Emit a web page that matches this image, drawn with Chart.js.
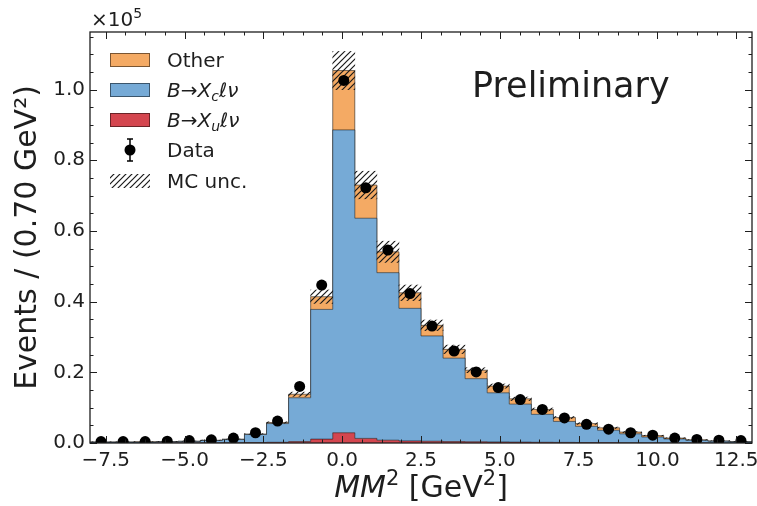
<!DOCTYPE html>
<html>
<head>
<meta charset="utf-8">
<script src="https://cdn.jsdelivr.net/npm/chart.js@4.4.1/dist/chart.umd.min.js"></script>
<style>
    html, body { margin: 0; padding: 0; background: #fff; }
    #wrap { width: 757px; height: 506px; }
</style>
</head>
<body>
<div id="wrap"><canvas id="mm2Chart" width="757" height="506"></canvas></div>
<script>
(function () {
    'use strict';

    var FONT = "'DejaVu Sans', sans-serif";
    var INK = '#1e1e1e';

    // MM^2 histogram, 0.70 GeV^2 bins; all yields in units of 1e5 events
    var binEdges = [-8.0, -7.3, -6.6, -5.9, -5.2, -4.5, -3.8, -3.1, -2.4, -1.7, -1.0,
        -0.3, 0.4, 1.1, 1.8, 2.5, 3.2, 3.9, 4.6, 5.3, 6.0,
        6.7, 7.4, 8.1, 8.8, 9.5, 10.2, 10.9, 11.6, 12.3, 13.0];

    var xuLnu = [0.0003, 0.0003, 0.0003, 0.0004, 0.0005, 0.0006, 0.0008, 0.0012, 0.002, 0.004,
        0.011, 0.029, 0.013, 0.008, 0.006, 0.005, 0.004, 0.0035, 0.003, 0.0025,
        0.002, 0.0017, 0.0014, 0.0011, 0.0009, 0.0007, 0.0005, 0.0004, 0.0003, 0.0002];

    var xcLnu = [0.0022, 0.0022, 0.0025, 0.0031, 0.004, 0.0064, 0.0092, 0.0228, 0.053, 0.124,
        0.367, 0.857, 0.623, 0.474, 0.375, 0.298, 0.236, 0.1785, 0.139, 0.1075,
        0.079, 0.0593, 0.0456, 0.0349, 0.0251, 0.0163, 0.011, 0.0071, 0.0047, 0.0031];

    var other = [0.0005, 0.0005, 0.0005, 0.0006, 0.0007, 0.0008, 0.001, 0.0015, 0.003, 0.010,
        0.036, 0.168, 0.094, 0.059, 0.044, 0.030, 0.025, 0.024, 0.019, 0.015,
        0.014, 0.011, 0.008, 0.007, 0.005, 0.004, 0.0025, 0.0015, 0.001, 0.0007];

    var mcUnc = [0.0003, 0.0003, 0.0003, 0.0003, 0.0003, 0.0004, 0.0005, 0.001, 0.002, 0.006,
        0.019, 0.054, 0.039, 0.030, 0.022, 0.015, 0.012, 0.007, 0.006, 0.005,
        0.004, 0.003, 0.0025, 0.002, 0.0015, 0.001, 0.0008, 0.0005, 0.0004, 0.0003];

    var dataYield = [0.004, 0.004, 0.004, 0.005, 0.007, 0.009, 0.014, 0.029, 0.062, 0.160,
        0.447, 1.026, 0.722, 0.546, 0.423, 0.331, 0.260, 0.201, 0.157, 0.123,
        0.095, 0.071, 0.053, 0.039, 0.029, 0.022, 0.014, 0.010, 0.008, 0.007];

    var xTickValues = [-7.5, -5.0, -2.5, 0.0, 2.5, 5.0, 7.5, 10.0, 12.5];
    var yTickValues = [0.0, 0.2, 0.4, 0.6, 0.8, 1.0];
    var X_MIN = -8, X_MAX = 13, Y_MAX = 1.163;

    var COLORS = {
        other: '#f4aa64',
        xc: '#76aad6',
        xu: '#d4464f',
        edge: 'rgba(0,0,0,0.5)'
    };

    var binCenters = binEdges.slice(0, -1).map(function (e, i) {
        return (e + binEdges[i + 1]) / 2;
    });

    // step outline: one point per bin edge, last value repeated at the right edge
    function stepPoints(vals) {
        return binEdges.map(function (e, i) {
            return { x: e, y: vals[Math.min(i, vals.length - 1)] };
        });
    }

    function makeHatch() {
        var c = document.createElement('canvas');
        c.width = 6; c.height = 6;
        var g = c.getContext('2d');
        g.strokeStyle = '#1a1a1a';
        g.lineWidth = 1.2;
        g.beginPath();
        g.moveTo(-1, 7); g.lineTo(7, -1);
        g.moveTo(-4, 4); g.lineTo(4, -4);
        g.moveTo(2, 10); g.lineTo(10, 2);
        g.stroke();
        return g.createPattern(c, 'repeat');
    }

    var hatch = makeHatch();

    var uncBand = binCenters.map(function (c, i) {
        var tot = xuLnu[i] + xcLnu[i] + other[i];
        return { x: c, y: [tot - mcUnc[i], tot + mcUnc[i]] };
    });

    var dataPoints = binCenters.map(function (c, i) {
        return { x: c, y: dataYield[i] };
    });

    function fmtTick(v) {
        return v.toFixed(1).replace('-', '\u2212');
    }

    // draw a run of [text, font, dy] pieces left to right
    function drawRuns(ctx, x, y, runs) {
        runs.forEach(function (r) {
            ctx.font = r[1];
            ctx.fillText(r[0], x, y + (r[2] || 0));
            x += ctx.measureText(r[0]).width;
        });
        return x;
    }

    function runsWidth(ctx, runs) {
        var w = 0;
        runs.forEach(function (r) {
            ctx.font = r[1];
            w += ctx.measureText(r[0]).width;
        });
        return w;
    }

    var decor = {
        id: 'decor',
        afterDraw: function (chart) {
            var ctx = chart.ctx;
            var a = chart.chartArea;
            var xs = chart.scales.x;
            var ys = chart.scales.y;
            var v, p;

            ctx.save();
            ctx.strokeStyle = INK;
            ctx.lineWidth = 1;
            ctx.beginPath();
            // minor ticks, inward on all four sides
            for (v = -8.75; v <= X_MAX; v += 0.625) {
                if (v < X_MIN) continue;
                p = Math.round(xs.getPixelForValue(v)) + 0.5;
                ctx.moveTo(p, a.bottom); ctx.lineTo(p, a.bottom - 3.5);
                ctx.moveTo(p, a.top); ctx.lineTo(p, a.top + 3.5);
            }
            for (v = 0; v <= Y_MAX; v += 0.05) {
                p = Math.round(ys.getPixelForValue(v)) + 0.5;
                ctx.moveTo(a.left, p); ctx.lineTo(a.left + 3.5, p);
                ctx.moveTo(a.right, p); ctx.lineTo(a.right - 3.5, p);
            }
            xTickValues.forEach(function (t) {
                var q = Math.round(xs.getPixelForValue(t)) + 0.5;
                ctx.moveTo(q, a.bottom); ctx.lineTo(q, a.bottom - 7);
                ctx.moveTo(q, a.top); ctx.lineTo(q, a.top + 7);
            });
            yTickValues.forEach(function (t) {
                var q = Math.round(ys.getPixelForValue(t)) + 0.5;
                ctx.moveTo(a.left, q); ctx.lineTo(a.left + 7, q);
                ctx.moveTo(a.right, q); ctx.lineTo(a.right - 7, q);
            });
            ctx.stroke();

            ctx.lineWidth = 1.3;
            ctx.strokeRect(a.left, a.top, a.right - a.left, a.bottom - a.top);

            ctx.fillStyle = INK;
            ctx.textBaseline = 'alphabetic';
            ctx.textAlign = 'left';

            // axis offset label
            drawRuns(ctx, a.left + 1, a.top - 6, [
                ['\u00d710', '20px ' + FONT],
                ['5', '14px ' + FONT, -8]
            ]);

            // x axis title
            var it = 'italic 30px ' + FONT, rm = '30px ' + FONT, sup = '21px ' + FONT;
            var xTitle = [['MM', it], ['2', sup, -12], [' [GeV', rm], ['2', sup, -12], [']', rm]];
            var tw = runsWidth(ctx, xTitle);
            drawRuns(ctx, (a.left + a.right) / 2 - tw / 2, 497, xTitle);

            // Preliminary tag
            ctx.font = '35px ' + FONT;
            ctx.fillText('Preliminary', 472, 97);

            // legend
            var lx = 110, lw = 40, lh = 14, tx = 167;
            var rows = [60, 90, 120, 150, 181];
            var fills = [COLORS.other, COLORS.xc, COLORS.xu];
            ctx.lineWidth = 1;
            ctx.strokeStyle = COLORS.edge;
            fills.forEach(function (f, i) {
                ctx.fillStyle = f;
                ctx.fillRect(lx, rows[i] - lh / 2, lw, lh);
                ctx.strokeRect(lx + 0.5, rows[i] - lh / 2 + 0.5, lw - 1, lh - 1);
            });
            ctx.fillStyle = hatch;
            ctx.fillRect(lx, rows[4] - lh / 2, lw, lh);

            // data marker with error bar
            ctx.strokeStyle = '#000';
            ctx.lineWidth = 1.5;
            ctx.beginPath();
            ctx.moveTo(lx + lw / 2, rows[3] - 11); ctx.lineTo(lx + lw / 2, rows[3] + 11);
            ctx.moveTo(lx + lw / 2 - 3, rows[3] - 11); ctx.lineTo(lx + lw / 2 + 3, rows[3] - 11);
            ctx.moveTo(lx + lw / 2 - 3, rows[3] + 11); ctx.lineTo(lx + lw / 2 + 3, rows[3] + 11);
            ctx.stroke();
            ctx.fillStyle = '#000';
            ctx.beginPath();
            ctx.arc(lx + lw / 2, rows[3], 5.5, 0, Math.PI * 2);
            ctx.fill();

            var lf = '20px ' + FONT, li = 'italic 20px ' + FONT, ls = 'italic 14px ' + FONT;
            ctx.fillStyle = INK;
            var base = 7;
            drawRuns(ctx, tx, rows[0] + base, [['Other', lf]]);
            drawRuns(ctx, tx, rows[1] + base, [['B', li], ['\u2192', lf], ['X', li], ['c', ls, 4], ['\u2113\u03bd', li]]);
            drawRuns(ctx, tx, rows[2] + base, [['B', li], ['\u2192', lf], ['X', li], ['u', ls, 4], ['\u2113\u03bd', li]]);
            drawRuns(ctx, tx, rows[3] + base, [['Data', lf]]);
            drawRuns(ctx, tx, rows[4] + base, [['MC unc.', lf]]);

            ctx.restore();
        }
    };

    function stepDataset(label, vals, color, fill) {
        return {
            type: 'line',
            label: label,
            data: stepPoints(vals),
            stepped: 'before',
            fill: fill,
            backgroundColor: color,
            borderColor: COLORS.edge,
            borderWidth: 1,
            pointRadius: 0,
            yAxisID: 'y'
        };
    }

    new Chart(document.getElementById('mm2Chart'), {
        type: 'line',
        data: {
            datasets: [
                {
                    type: 'scatter',
                    label: 'Data',
                    data: dataPoints,
                    backgroundColor: '#000',
                    borderWidth: 0,
                    pointRadius: 5.5,
                    clip: 0,
                    yAxisID: 'yu'
                },
                {
                    type: 'bar',
                    label: 'MC unc.',
                    data: uncBand,
                    backgroundColor: hatch,
                    borderWidth: 0,
                    barPercentage: 1,
                    categoryPercentage: 1,
                    grouped: false,
                    yAxisID: 'yu'
                },
                stepDataset('B\u2192Xu\u2113\u03bd', xuLnu, COLORS.xu, 'origin'),
                stepDataset('B\u2192Xc\u2113\u03bd', xcLnu, COLORS.xc, '-1'),
                stepDataset('Other', other, COLORS.other, '-1')
            ]
        },
        options: {
            responsive: false,
            animation: false,
            layout: { autoPadding: false, padding: { top: 32, right: 5, left: 0, bottom: 0 } },
            plugins: {
                legend: { display: false },
                tooltip: { enabled: false }
            },
            scales: {
                x: {
                    type: 'linear',
                    offset: false,
                    min: X_MIN,
                    max: X_MAX,
                    afterBuildTicks: function (s) {
                        s.ticks = xTickValues.map(function (v) { return { value: v }; });
                    },
                    afterFit: function (s) {
                        s.height = 63;
                        s.paddingLeft = 0;
                        s.paddingRight = 0;
                    },
                    ticks: {
                        autoSkip: false,
                        maxRotation: 0,
                        padding: 6,
                        color: INK,
                        font: { family: FONT, size: 20 },
                        callback: function (v) { return fmtTick(v); }
                    },
                    grid: { display: false, drawTicks: false, offset: false },
                    border: { display: false }
                },
                y: {
                    stacked: true,
                    min: 0,
                    max: Y_MAX,
                    afterBuildTicks: function (s) {
                        s.ticks = yTickValues.map(function (v) { return { value: v }; });
                    },
                    afterFit: function (s) {
                        s.width = 90;
                        s.paddingTop = 0;
                        s.paddingBottom = 0;
                    },
                    ticks: {
                        padding: 5,
                        color: INK,
                        font: { family: FONT, size: 20 },
                        callback: function (v) { return fmtTick(v); }
                    },
                    title: {
                        display: true,
                        text: 'Events / (0.70 GeV\u00b2)',
                        color: INK,
                        font: { family: FONT, size: 30 },
                        padding: { top: 10, bottom: 0 }
                    },
                    grid: { display: false, drawTicks: false },
                    border: { display: false }
                },
                yu: {
                    display: false,
                    stacked: false,
                    min: 0,
                    max: Y_MAX
                }
            }
        },
        plugins: [decor]
    });
})();
</script>
</body>
</html>
